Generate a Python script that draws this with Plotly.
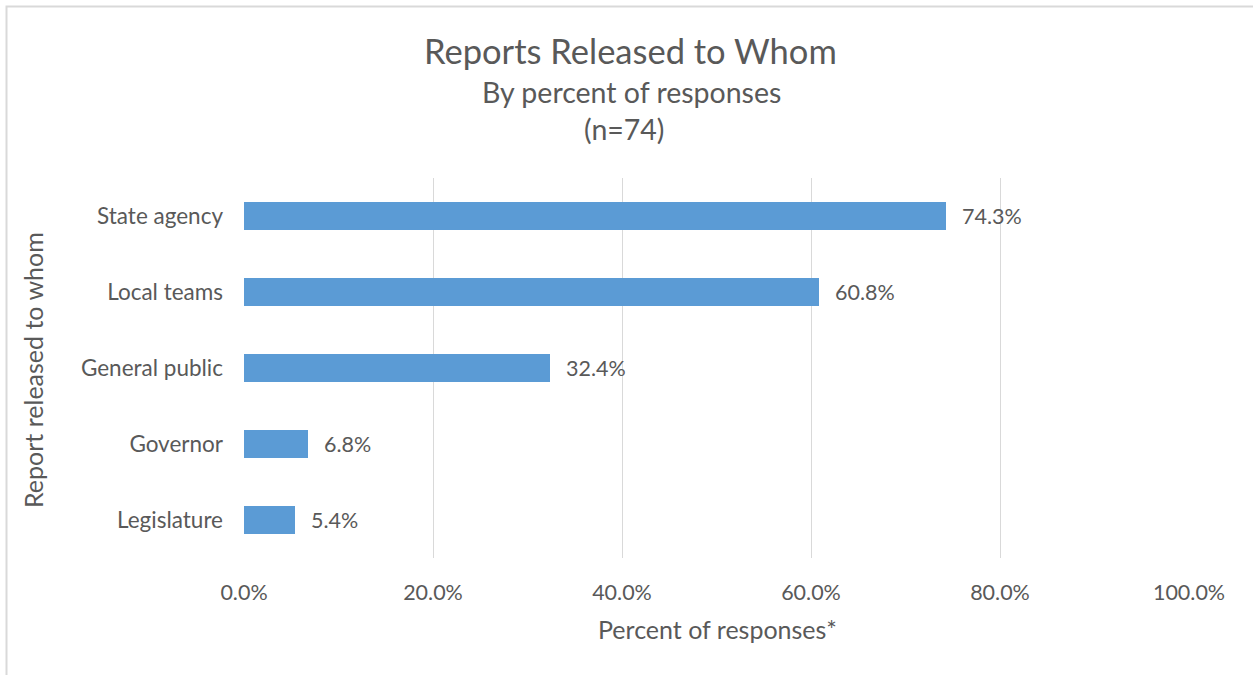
import plotly.graph_objects as go

# Survey results: who the reports are released to
categories = ["State agency", "Local teams", "General public", "Governor", "Legislature"]
percents = [74.3, 60.8, 32.4, 6.8, 5.4]
x_ticks = [0, 20, 40, 60, 80, 100]
x_tick_labels = ["0.0%", "20.0%", "40.0%", "60.0%", "80.0%", "100.0%"]

FONT = "Lato"
GRAY = "#595959"
GRID = "#D9D9D9"
BAR = "#5B9BD5"

W, H = 1253, 675
L, R, T, B = 244, 64, 178, 117
PW, PH = W - L - R, H - T - B

fig = go.Figure()
fig.add_trace(go.Bar(
    y=categories,
    x=percents,
    orientation="h",
    marker=dict(color=BAR, line=dict(width=0)),
    width=0.36,
    hoverinfo="skip",
))

# value labels to the right of each bar
for cat, val in zip(categories, percents):
    fig.add_annotation(
        x=val, y=cat, xref="x", yref="y",
        text=f"{val:.1f}%", showarrow=False,
        xanchor="left", yanchor="middle", xshift=14,
        font=dict(family=FONT, size=21.5, color=GRAY),
    )

def px_x(px):
    return (px - L) / PW

def px_y(py):
    return (H - B - py) / PH

# titles
fig.add_annotation(x=px_x(630), y=px_y(50), xref="paper", yref="paper",
                   text="Reports Released to Whom", showarrow=False,
                   font=dict(family=FONT, size=34.5, color=GRAY), yanchor="middle")
fig.add_annotation(x=px_x(631), y=px_y(92), xref="paper", yref="paper",
                   text="By percent of responses", showarrow=False,
                   font=dict(family=FONT, size=28.5, color=GRAY), yanchor="middle")
fig.add_annotation(x=px_x(624), y=px_y(129), xref="paper", yref="paper",
                   text="(n=74)", showarrow=False,
                   font=dict(family=FONT, size=28.5, color=GRAY), yanchor="middle")

# axis titles
fig.add_annotation(x=px_x(717), y=px_y(629), xref="paper", yref="paper",
                   text="Percent of responses*", showarrow=False,
                   font=dict(family=FONT, size=25, color=GRAY), yanchor="middle")
fig.add_annotation(x=px_x(33), y=px_y(370), xref="paper", yref="paper",
                   text="Report released to whom", showarrow=False, textangle=-90,
                   font=dict(family=FONT, size=25, color=GRAY),
                   xanchor="center", yanchor="middle")

# chart-area frame
fig.add_shape(type="rect", xref="paper", yref="paper",
              x0=px_x(6.5), x1=px_x(1300), y0=px_y(720), y1=px_y(6.5),
              line=dict(color=GRID, width=2), fillcolor="rgba(0,0,0,0)", layer="below")

fig.update_layout(
    width=W, height=H,
    margin=dict(l=L, r=R, t=T, b=B, pad=0),
    paper_bgcolor="white", plot_bgcolor="white",
    showlegend=False,
    bargap=0,
    font=dict(family=FONT, color=GRAY),
    xaxis=dict(
        range=[0, 100], tickvals=x_ticks, ticktext=x_tick_labels,
        showgrid=True, gridcolor=GRID, gridwidth=1.3,
        zeroline=False, showline=False, ticks="",
        tickfont=dict(family=FONT, size=21.5, color=GRAY),
        ticklabelstandoff=19, fixedrange=True,
    ),
    yaxis=dict(
        categoryorder="array", categoryarray=categories,
        autorange="reversed",
        showgrid=False, zeroline=False, showline=False, ticks="",
        tickfont=dict(family=FONT, size=22.5, color=GRAY),
        ticklabelstandoff=20, fixedrange=True,
    ),
)

fig.write_html("out.html")
